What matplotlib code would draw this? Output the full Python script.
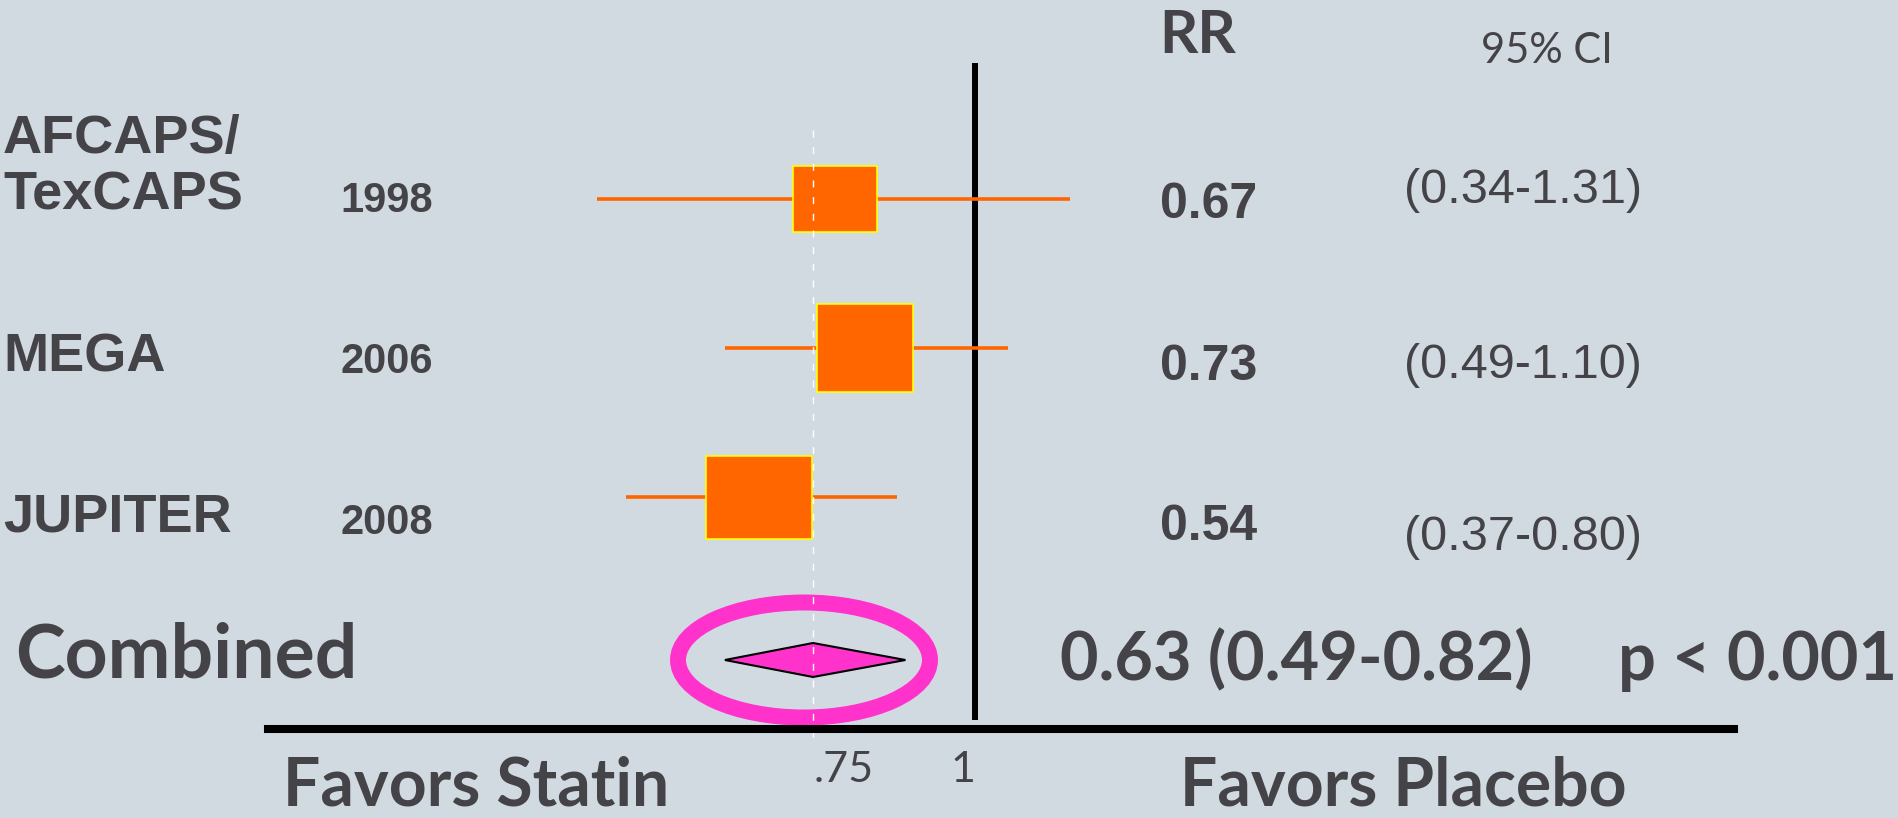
"""
Forest plot: statins vs placebo in primary prevention trials.
"""

import numpy as np
import matplotlib
matplotlib.use('Agg')
import matplotlib.pyplot as plt
from matplotlib.patches import Rectangle, Polygon, Ellipse
from matplotlib.lines import Line2D
from matplotlib.transforms import IdentityTransform

# --- data ---
studies = ['AFCAPS/\nTexCAPS', 'MEGA', 'JUPITER']
years = ['1998', '2006', '2008']
rr = [0.67, 0.73, 0.54]
ci_lo = [0.34, 0.49, 0.37]
ci_hi = [1.31, 1.10, 0.80]

pooled_rr = 0.63
pooled_lo = 0.49
pooled_hi = 0.82
pooled_p = 'p < 0.001'

tick_vals = [0.75, 1.0]
tick_labels = ['.75', '1']

# --- style ---
W, H = 1899, 818
BG = '#D2DAE1'
INK = '#444348'
ORANGE = '#FF6600'
PINK = '#FF33CC'
ARIAL = ['Liberation Sans', 'DejaVu Sans']
CALIBRI = ['Lato', 'DejaVu Sans']

# box half sizes in pixels (study weight)
box_hw = [42, 48, 53]
box_hh = [33, 44, 41.5]

fig = plt.figure(figsize=(W / 100, H / 100), dpi=100, facecolor=BG)
ax = fig.add_axes([0, 0, 1, 1])
ax.set_facecolor(BG)
ax.axis('off')

# log RR axis: RR = 1 sits at x=975 px, ~350 px per unit of ln(RR)
px_one, px_per_ln = 975, 350.6
ax.set_xscale('log')
ax.set_xlim(np.exp(-px_one / px_per_ln), np.exp((W - px_one) / px_per_ln))
# study rows ~149 px apart, the first at y=199 px
row0_px, row_px = 199, 149
ax.set_ylim((H - row0_px) / row_px, -row0_px / row_px)


def yrow(px):
    return (px - row0_px) / row_px


def put(x_px, y_px, s, **kw):
    # y_px is the baseline of the (last) line
    fig.text(x_px / W, 1 - y_px / H, s, va='baseline', color=INK, **kw)


# line of no effect and pooled estimate
ax.vlines(1.0, yrow(63), yrow(720), color='black', lw=4.3, zorder=1)
ax.vlines(pooled_rr, yrow(130), yrow(740), color='white', lw=1.0,
          linestyles=(0, (5, 7)), zorder=5)

for i in range(len(studies)):
    ax.plot([ci_lo[i], ci_hi[i]], [i, i], color=ORANGE, lw=2.6,
            solid_capstyle='butt', zorder=2)
    hw = box_hw[i] / px_per_ln
    hh = box_hh[i] / row_px
    ax.add_patch(Rectangle((rr[i] * np.exp(-hw), i - hh),
                           rr[i] * (np.exp(hw) - np.exp(-hw)), 2 * hh,
                           facecolor=ORANGE, edgecolor='#FFFF00', lw=1.2,
                           zorder=3))

# pooled diamond with highlight ring
y_pool = yrow(660)
dh = 17 / row_px
ax.add_patch(Polygon([(pooled_lo, y_pool), (pooled_rr, y_pool - dh),
                      (pooled_hi, y_pool), (pooled_rr, y_pool + dh)],
                     closed=True, facecolor=PINK, edgecolor='black', lw=1.5,
                     zorder=4))
cx, cy = ax.transData.transform((pooled_rr, y_pool))
ax.add_patch(Ellipse((cx - 9, cy), 252, 115, transform=IdentityTransform(),
                     fill=False, edgecolor=PINK, lw=11.5, zorder=4))

# bottom axis rule
fig.add_artist(Line2D([268 / W, 1734 / W], [1 - 729 / H] * 2,
                      color='black', lw=5.8))
for v, lab in zip(tick_vals, tick_labels):
    ax.text(v, yrow(782), lab, ha='right', va='baseline', color=INK,
            fontsize=31, family=CALIBRI)

# table columns
name_base = [209, 372, 532]
year_base = [212, 373, 534]
rr_base = [218, 380, 540]
ci_base = [203, 378, 550]
for i in range(len(studies)):
    put(3, name_base[i], studies[i], fontsize=39, fontweight='bold',
        family=ARIAL, linespacing=1.15)
    put(340, year_base[i], years[i], fontsize=30, fontweight='bold',
        family=ARIAL)
    put(1160, rr_base[i], f'{rr[i]:.2f}', fontsize=36, fontweight='bold',
        family=ARIAL)
    put(1404, ci_base[i], f'({ci_lo[i]:.2f}-{ci_hi[i]:.2f})', fontsize=35,
        family=ARIAL)

put(1159, 53, 'RR', fontsize=43, fontweight='bold', family=CALIBRI)
put(1481, 63, '95% CI', fontsize=30, family=CALIBRI)

put(15, 677, 'Combined', fontsize=54, fontweight='bold', family=CALIBRI)
put(1060, 680, f'{pooled_rr:.2f} ({pooled_lo:.2f}-{pooled_hi:.2f})',
    fontsize=48, fontweight='bold', family=CALIBRI)
put(1618, 680, pooled_p, fontsize=48, fontweight='bold', family=CALIBRI)

put(283, 806, 'Favors Statin', fontsize=47.5, fontweight='bold',
    family=CALIBRI)
put(1180, 806, 'Favors Placebo', fontsize=47.5, fontweight='bold',
    family=CALIBRI)

fig.savefig('out.png', dpi=100, facecolor=BG)
plt.close(fig)
